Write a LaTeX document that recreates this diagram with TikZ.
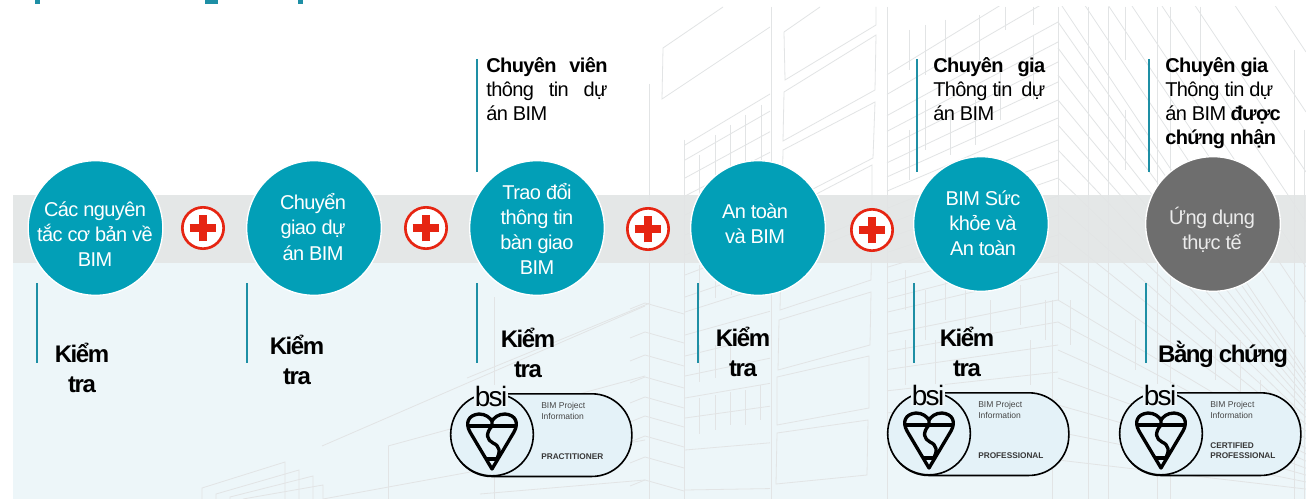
\documentclass[tikz,border=0pt]{standalone}
\usepackage{fontspec}
\setmainfont[LetterSpace=-3]{Liberation Sans}
\newfontfamily\tightfont[LetterSpace=-6]{Liberation Sans}
\newfontfamily\plainfont{Liberation Sans}
\definecolor{tealc}{HTML}{029FB7}
\definecolor{tickc}{HTML}{1E8FA5}
\definecolor{greyc}{HTML}{6E6E6E}
\definecolor{bandc}{HTML}{E2E5E5}
\definecolor{paleb}{HTML}{EDF6F9}
\definecolor{pillb}{HTML}{E4F2F8}
\definecolor{bldgc}{HTML}{E2E4E5}
\definecolor{redc}{HTML}{E62512}
\tikzset{
    bldg/.style={draw=bldgc,line width=.6pt},
    stepc/.style={circle,fill=tealc,draw=white,line width=1pt,minimum size=101pt,inner sep=0},
    circtext/.style={align=center,text=white,inner sep=0,font=\fontsize{15}{18.9}\selectfont},
    plusdot/.style={circle,fill=white,draw=redc,line width=2pt,minimum size=31pt,inner sep=0},
    crossbar/.style={draw=redc,line width=6pt},
    tickl/.style={draw=tickc,line width=1.1pt},
    kiemtra/.style={align=center,inner sep=0,font=\tightfont\bfseries\fontsize{18}{22.6}\selectfont},
    toptext/.style={align=left,anchor=north west,inner sep=0,font=\fontsize{15}{18}\selectfont},
    pill/.style={draw=black,fill=pillb,line width=1.2pt,rounded corners=30pt,minimum width=135pt,minimum height=62pt,inner sep=0,anchor=north west},
    pillc/.style={circle,draw=black,fill=pillb,line width=1.2pt,minimum size=62pt,inner sep=0},
    bsitext/.style={fill=paleb,inner sep=.8pt,font=\tightfont\fontsize{21}{21}\selectfont},
    kite/.style={draw=black,line width=2.5pt,line join=round},
    smallt/.style={align=left,anchor=west,inner sep=0,text=black!72,font=\plainfont\fontsize{6.4}{8.8}\selectfont},
    smallb/.style={align=left,anchor=west,inner sep=0,text=black!78,font=\plainfont\bfseries\fontsize{6.2}{7.6}\selectfont}
}
\begin{document}
\begin{tikzpicture}[x=.75pt,y=-.75pt]
    \useasboundingbox (0,0) rectangle (1306,499);
    \fill[white] (0,0) rectangle (1306,499);
    \fill[paleb] (13,263) rectangle (1306,499);
    \fill[tickc] (35,0) rectangle (40,4);
    \fill[tickc] (205,0) rectangle (218,4);
    \fill[tickc] (298,0) rectangle (303,4);
    \begin{scope}
        \clip (13,7) rectangle (1306,499);
        \foreach \xa/\ya/\yb in {649/84/499,684/140/499,771/7/499,887/7/499,1058/7/300,1052/300/499,1088/7/499,1108/7/499,1157/7/499,1170/7/499,1294/50/499,1304/130/499,494/297/499}
        {
            \draw[bldg] (\xa,\ya)--(\xa,\yb);
        }
        \draw[bldg] (663,48)--(723,7);
        \draw[bldg] (663,48)--(662,99)--(770,27);
        \draw[bldg] (784,32)--(820,7);
        \draw[bldg] (784,32)--(785,80)--(876,25)--(876,7);
        \draw[bldg] (784,92)--(876,35)--(875,90)--(783,141)--cycle;
        \draw[bldg] (783,150)--(875,102)--(873,158)--(782,205)--cycle;
        \draw[bldg] (782,212)--(872,165)--(872,215)--(781,255)--cycle;
        \draw[bldg] (781,262)--(872,225)--(871,280)--(780,310)--cycle;
        \draw[bldg] (779,320)--(871,292)--(870,345)--(778,370)--cycle;
        \draw[bldg] (777,377)--(869,356)--(869,408)--(777,425)--cycle;
        \draw[bldg] (777,433)--(868,420)--(867,475)--(776,484)--cycle;
        \foreach \yl in {145,160,178,196,215,235,255,275,297,312,335,356,376,398,418,450,490}
        {
            \pgfmathsetmacro\yr{\yl-0.1437*(500-\yl)}
            \draw[bldg] (685,\yl)--(770,\yr);
        }
        \foreach \xa/\ya/\yb in {699/155/195,715/135/190,730/125/180,745/115/170,761/105/160,699/265/300,715/262/298,731/262/295,699/398/434,715/395/430,730/392/425,745/390/425,760/385/420,699/345/382,715/345/378,730/340/375}
        {
            \draw[bldg] (\xa,\ya)--(\xa,\yb);
        }
        \foreach \yr in {-30,-5,22,42,62,82,100,118,140,160,178,196,215,235,255,272,300,322,345,372,400}
        {
            \pgfmathsetmacro\yl{\yr+0.21375*(460-\yr)}
            \draw[bldg] (887,\yl)--(1058,\yr);
        }
        \foreach \xa/\ya/\yb in {909/30/70,925/25/75,945/20/65,979/15/60,1005/7/30,1033/7/25,909/130/180,925/100/150,950/110/155,975/100/145,1000/60/120,1033/35/100,905/270/310,925/290/340,945/275/320,965/285/330,990/300/345,1020/285/325,905/340/385,935/340/390,1030/340/385,1045/300/340}
        {
            \draw[bldg] (\xa,\ya)--(\xa,\yb);
        }
        \foreach \yl in {-320,-260,-200,-150,-105,-70,-35,0,22,48,75,100,125,150,178,205,232,262,300,322,350,378,405,432,460}
        {
            \pgfmathsetmacro\sl{min(1.5,1.5-0.003*\yl)}
            \pgfmathsetmacro\yr{\yl+248*\sl}
            \draw[bldg] (1058,\yl)--(1306,\yr);
        }
        \foreach \xa/\ya/\yb in {1070/300/345,1125/7/60,1125/110/170,1135/320/370,1200/7/80,1215/330/380,1240/340/400,1260/380/430,1275/420/470}
        {
            \draw[bldg] (\xa,\ya)--(\xa,\yb);
        }
        \foreach \yb in {303,332,355,377,397,416,436,457,480}
        {
            \draw[bldg] (630,\yb+6)--(645,\yb)--(684,\yb+11);
        }
        \draw[bldg] (322,446)--(645,306);
        \draw[bldg] (467,378)--(650,303);
        \draw[bldg] (388,446)--(645,376);
        \draw[bldg] (388,446)--(388,499);
        \draw[bldg] (323,499)--(645,440);
        \draw[bldg] (480,494)--(645,480);
        \draw[bldg] (202,499)--(202,488)--(285,462)--(285,499);
        \draw[bldg] (216,499)--(216,494)--(299,470)--(299,499);
        \draw[bldg] (230,499)--(230,497)--(313,476)--(313,499);
        \draw[bldg] (243,499)--(323,485)--(323,499);
    \end{scope}
    \fill[bandc,opacity=.9] (13,195) rectangle (1306,263);

    \foreach \n/\xa in {a/37,b/247,c/477,d/698,e/914,f/1146}
    {
        \coordinate (low\n) at (\xa,283);
        \coordinate (lowend\n) at (\xa,363);
        \draw[tickl] (low\n)--(lowend\n);
    }
    \foreach \n/\xa in {c/477,e/917,f/1149}
    {
        \coordinate (up\n) at (\xa,59);
        \coordinate (upend\n) at (\xa,172);
        \draw[tickl] (up\n)--(upend\n);
    }

    \node[stepc] (stepa) at (95.5,228) {};
    \node[stepc] (stepb) at (314,228) {};
    \node[stepc] (stepc) at (537,228) {};
    \node[stepc] (stepd) at (758,228) {};
    \node[stepc] (stepe) at (981,224) {};
    \node[stepc,fill=greyc] (stepf) at (1213,224) {};

    \node[circtext] (ta) at (95,234) {Các nguyên\\tắc cơ bản về\\BIM};
    \node[circtext] (tb) at (313,227) {Chuyển\\giao dự\\án BIM};
    \node[circtext] (tc) at (537,229) {Trao đổi\\thông tin\\bàn giao\\BIM};
    \node[circtext] (td) at (755,224) {An toàn\\và BIM};
    \node[circtext] (te) at (983,223) {BIM Sức\\khỏe và\\An toàn};
    \node[circtext,text=white!92!black] (tf) at (1212,230) {Ứng dụng\\thực tế};

    \foreach \n/\xa/\ya in {a/203/228,b/426/228,c/648/229,d/872/230}
    {
        \node[plusdot] (plus\n) at (\xa,\ya) {};
        \draw[crossbar] ([xshift=-10pt]plus\n.center)--([xshift=10pt]plus\n.center);
        \draw[crossbar] ([yshift=-10pt]plus\n.center)--([yshift=10pt]plus\n.center);
    }

    \node[toptext] (upc) at (486,57) {\hbox to 91pt{\bfseries Chuyên\hfill viên}\\\hbox to 91pt{thông\hfill tin\hfill dự}\\án BIM};
    \node[toptext] (upe) at (933,57) {\hbox to 84pt{\bfseries Chuyên\hfill gia}\\\hbox to 84pt{Thông tin\hfill dự}\\án BIM};
    \node[toptext] (upf) at (1165,57) {\textbf{Chuyên gia}\\Thông tin dự\\án BIM \textbf{được}\\\textbf{chứng nhận}};

    \foreach \n/\xa/\ya in {a/82/368,b/297/360,c/528/353,d/743/352,e/967/352}
    {
        \node[kiemtra] (kt\n) at (\xa,\ya) {Kiểm\\tra};
    }
    \node[kiemtra] (ktf) at (1223,354) {Bằng chứng};

    \foreach \n/\xa/\ya/\lab/\lby in {c/451/393/PRACTITIONER/64,e/888/392/PROFESSIONAL/64,f/1120/392/{CERTIFIED\\PROFESSIONAL}/59}
    {
        \begin{scope}[shift={(\xa,\ya)}]
            \node[pill] (pill\n) at (0,0) {};
            \node[pillc] (seal\n) at (41,41.5) {};
            \node[bsitext] (bsi\n) at (40,3) {bsi};
            \draw[kite] (41,76)--(19,39) .. controls (14,30) and (17,22) .. (28,21) .. controls (35,21) and (39,25) .. (41,28) .. controls (43,25) and (47,21) .. (54,21) .. controls (65,22) and (68,30) .. (63,39)--cycle;
            \draw[kite] (17,33)--(65,33);
            \draw[kite] (41,28)--(41,33) .. controls (34,41) and (36,47) .. (42,50) .. controls (49,53) and (50,59) .. (45,67);
            \draw[kite] (34,66)--(48,66);
            \node[smallt] (info\n) at (90,18) {BIM Project\\Information};
            \node[smallb] (lvl\n) at (90,\lby) {\lab};
        \end{scope}
    }
\end{tikzpicture}
\end{document}
